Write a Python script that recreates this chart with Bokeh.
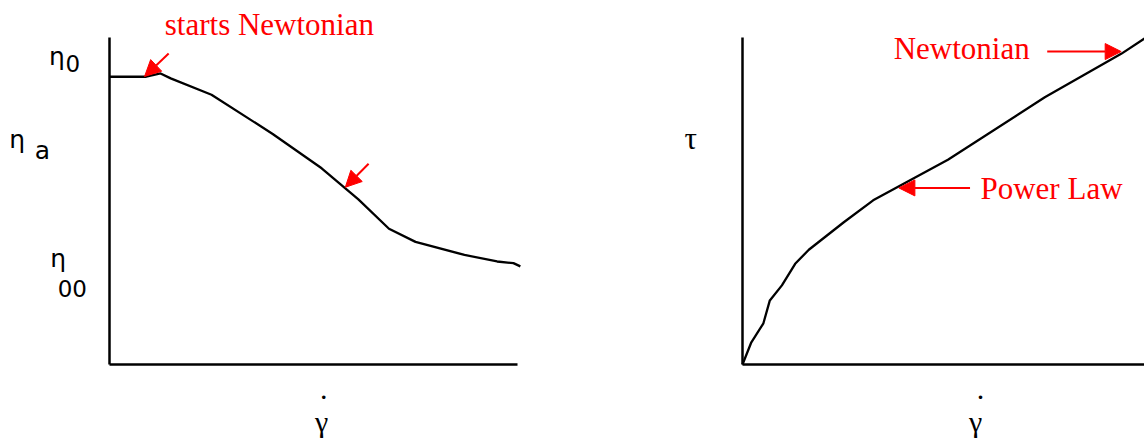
from bokeh.plotting import figure
from bokeh.layouts import row
from bokeh.models import Range1d, Label, Arrow, NormalHead, LinearAxis, FixedTicker
from bokeh.embed import file_html
from bokeh.resources import INLINE

# Apparent viscosity vs shear rate (arbitrary units, 0-100)
visc_rate = [0, 9, 12.5, 15, 25, 40, 52, 61, 68.5, 75, 87, 95, 99, 100.7]
visc = [88, 88, 89, 87.5, 82.5, 70.5, 60, 50.5, 41.5, 37.5, 33.5, 31.5, 31, 30]

# Shear stress vs shear rate (arbitrary units, 0-100)
stress_rate = [0, 2.2, 5.2, 6.8, 9.8, 13.1, 16.5, 25.2, 32.5, 51.1, 75.2, 94.2, 100]
stress = [0, 6.8, 12.6, 19.6, 24.2, 30.8, 35.1, 43.5, 50.2, 62.6, 81.7, 95.0, 99.7]

SERIF = "Liberation Serif"
SANS = "DejaVu Sans"
RED = "#ff0000"
HEIGHT = 439


def make_panel(width, axis_left, axis_right, axis_top=37, axis_bottom=364):
    """A panel whose frame fills the canvas; the axes sit at data 0."""
    sx = (axis_right - axis_left) / 100.0
    sy = (axis_bottom - axis_top) / 100.0
    p = figure(width=width, height=HEIGHT, output_backend="svg", toolbar_location=None,
               x_range=Range1d(-axis_left / sx, (width - axis_left) / sx),
               y_range=Range1d(-(HEIGHT - axis_bottom) / sy, axis_bottom / sy),
               x_axis_location=None, y_axis_location=None,
               min_border=0)
    p.grid.visible = False
    p.outline_line_color = None
    p.background_fill_color = "white"
    p.border_fill_color = "white"
    for side in ("left", "below"):
        ax = LinearAxis(fixed_location=0, bounds=(0, 100), ticker=FixedTicker(ticks=[]),
                        axis_line_width=2.5, axis_line_color="black",
                        major_tick_line_color=None, minor_tick_line_color=None)
        p.add_layout(ax, side)
    return p


def label(p, x, y, text, font, size, color="black", align="left"):
    p.add_layout(Label(x=x, y=y, text=text, text_font=font, text_font_size=size,
                       text_color=color, text_align=align, text_baseline="alphabetic"))


def arrow(p, xs, ys, xe, ye):
    p.add_layout(Arrow(end=NormalHead(size=16, fill_color=RED, line_color=RED),
                       x_start=xs, y_start=ys, x_end=xe, y_end=ye,
                       line_color=RED, line_width=2))


# Left panel: viscosity curve
left = make_panel(600, 109, 517)
left.line(visc_rate, visc, line_color="black", line_width=2.3)
label(left, 13.55, 103.9, "starts Newtonian", SERIF, "31px", RED)
arrow(left, 14.5, 95.1, 8.6, 88.1)
arrow(left, 63.5, 61.4, 57.8, 54.2)
label(left, -14.8, 94.3, "η", SANS, "25px")
label(left, -10.8, 91.9, "0", SANS, "23px")
label(left, -24.6, 68.9, "η", SANS, "25px")
label(left, -18.3, 65.5, "a", SANS, "25px")
label(left, -14.5, 32.5, "η", SANS, "25px")
label(left, -12.7, 23.3, "00", SANS, "23px")
label(left, 52.5, -7.6, ".", SERIF, "30px", align="center")
label(left, 52.0, -17.4, "γ", SERIF, "30px", align="center")

# Right panel: flow curve
right = make_panel(544, 142, 544)
right.line(stress_rate, stress, line_color="black", line_width=2.3)
label(right, 37.6, 96.6, "Newtonian", SERIF, "31px", RED)
arrow(right, 75.8, 95.7, 94.2, 95.7)
label(right, 59.2, 53.9, "Power Law", SERIF, "31px", RED)
arrow(right, 56.6, 54.0, 38.9, 54.0)
label(right, -12.9, 69.2, "τ", SERIF, "31px", align="center")
label(right, 59.2, -7.6, ".", SERIF, "30px", align="center")
label(right, 58.0, -17.4, "γ", SERIF, "30px", align="center")

layout = row(left, right, spacing=0)
open("out.html", "w").write(file_html(layout, INLINE))
